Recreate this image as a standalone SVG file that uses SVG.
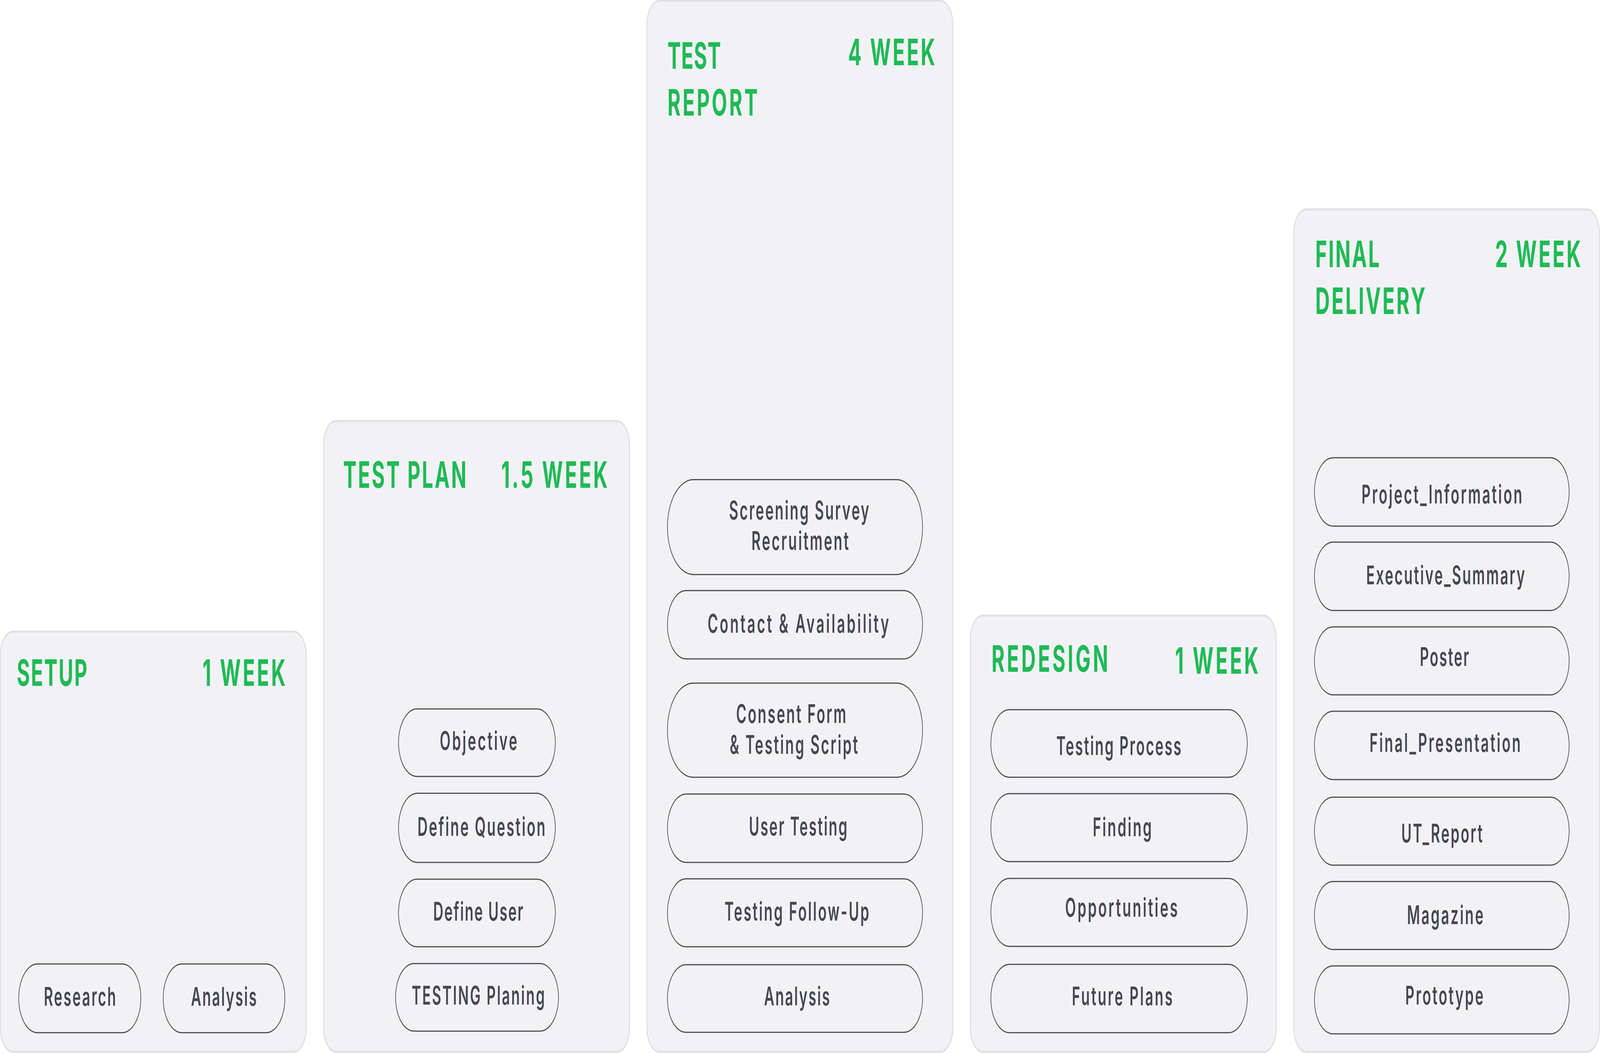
<svg xmlns="http://www.w3.org/2000/svg" width="7520" height="2696" viewBox="0 0 7520 2696" preserveAspectRatio="none" style="width:100vw;height:100vh;display:block">
<style>
.bg{fill:#FFFFFF}
.card{fill:#F2F2F6;stroke:#E0E0E3;stroke-width:5}
.pill{fill:none;stroke:#4A4B57;stroke-width:3}
.title{font-family:Inter,"Liberation Sans",sans-serif;font-weight:700;font-size:94px;fill:#1FBA55}
.label{font-family:Inter,"Liberation Sans",sans-serif;font-weight:600;font-size:66px;fill:#454752}
</style>
<rect class="bg" x="0" y="0" width="7520" height="2696"/>

<g id="setup">
<rect class="card" x="2" y="1617" width="1437" height="1076" rx="60"/>
<text class="title" x="79" y="1756" textLength="331" lengthAdjust="spacing">SETUP</text>
<text class="title" x="952" y="1756" textLength="390" lengthAdjust="spacing">1 WEEK</text>
<g id="setup-research"><rect class="pill" x="88" y="2468" width="574" height="176" rx="88"/>
<text class="label" x="206" y="2575" textLength="339" lengthAdjust="spacing">Research</text></g>
<g id="setup-analysis"><rect class="pill" x="767" y="2468" width="572" height="176" rx="88"/>
<text class="label" x="898" y="2575" textLength="308" lengthAdjust="spacing">Analysis</text></g>
</g>

<g id="test-plan">
<rect class="card" x="1521" y="1078" width="1437" height="1615" rx="60"/>
<text class="title" x="1613" y="1249" textLength="579" lengthAdjust="spacing">TEST PLAN</text>
<text class="title" x="2356" y="1249" textLength="500" lengthAdjust="spacing">1.5 WEEK</text>
<g id="tp-objective"><rect class="pill" x="1873" y="1815" width="737" height="173" rx="86.5"/>
<text class="label" x="2067" y="1920" textLength="364" lengthAdjust="spacing">Objective</text></g>
<g id="tp-question"><rect class="pill" x="1873" y="2031" width="737" height="177" rx="88.5"/>
<text class="label" x="1962" y="2140" textLength="601" lengthAdjust="spacing">Define Question</text></g>
<g id="tp-user"><rect class="pill" x="1873" y="2251" width="737" height="173" rx="86.5"/>
<text class="label" x="2036" y="2357" textLength="423" lengthAdjust="spacing">Define User</text></g>
<g id="tp-planing"><rect class="pill" x="1859" y="2467" width="766" height="173" rx="86.5"/>
<text class="label" x="1935" y="2572" textLength="625" lengthAdjust="spacing">TESTING Planing</text></g>
</g>

<g id="test-report">
<rect class="card" x="3041" y="2" width="1437" height="2691" rx="60"/>
<text class="title" x="3137" y="176" textLength="251" lengthAdjust="spacing">TEST</text>
<text class="title" x="3137" y="296" textLength="424" lengthAdjust="spacing">REPORT</text>
<text class="title" x="3986" y="167" textLength="409" lengthAdjust="spacing">4 WEEK</text>
<g id="tr-screening"><rect class="pill" x="3137" y="1228" width="1199" height="243" rx="121.5"/>
<text class="label" x="3427" y="1330" textLength="658" lengthAdjust="spacing">Screening Survey</text>
<text class="label" x="3532" y="1408" textLength="457" lengthAdjust="spacing">Recruitment</text></g>
<g id="tr-contact"><rect class="pill" x="3137" y="1512" width="1199" height="175" rx="87.5"/>
<text class="label" x="3326" y="1620" textLength="852" lengthAdjust="spacing">Contact &amp; Availability</text></g>
<g id="tr-consent"><rect class="pill" x="3137" y="1749" width="1199" height="241" rx="120.5"/>
<text class="label" x="3460" y="1851" textLength="517" lengthAdjust="spacing">Consent Form</text>
<text class="label" x="3430" y="1930" textLength="602" lengthAdjust="spacing">&amp; Testing Script</text></g>
<g id="tr-usertesting"><rect class="pill" x="3137" y="2033" width="1199" height="175" rx="87.5"/>
<text class="label" x="3520" y="2139" textLength="462" lengthAdjust="spacing">User Testing</text></g>
<g id="tr-followup"><rect class="pill" x="3137" y="2250" width="1199" height="174" rx="87"/>
<text class="label" x="3405" y="2357" textLength="680" lengthAdjust="spacing">Testing Follow-Up</text></g>
<g id="tr-analysis"><rect class="pill" x="3137" y="2470" width="1199" height="173" rx="86.5"/>
<text class="label" x="3591" y="2574" textLength="309" lengthAdjust="spacing">Analysis</text></g>
</g>

<g id="redesign">
<rect class="card" x="4561" y="1576" width="1437" height="1117" rx="60"/>
<text class="title" x="4660" y="1720" textLength="548" lengthAdjust="spacing">REDESIGN</text>
<text class="title" x="5523" y="1725" textLength="392" lengthAdjust="spacing">1 WEEK</text>
<g id="rd-process"><rect class="pill" x="4657" y="1817" width="1205" height="173" rx="86.5"/>
<text class="label" x="4965" y="1933" textLength="587" lengthAdjust="spacing">Testing Process</text></g>
<g id="rd-finding"><rect class="pill" x="4657" y="2032" width="1205" height="174" rx="87"/>
<text class="label" x="5136" y="2141" textLength="277" lengthAdjust="spacing">Finding</text></g>
<g id="rd-opportunities"><rect class="pill" x="4657" y="2249" width="1205" height="174" rx="87"/>
<text class="label" x="5006" y="2347" textLength="529" lengthAdjust="spacing">Opportunities</text></g>
<g id="rd-future"><rect class="pill" x="4657" y="2469" width="1205" height="175" rx="87.5"/>
<text class="label" x="5038" y="2574" textLength="473" lengthAdjust="spacing">Future Plans</text></g>
</g>

<g id="final-delivery">
<rect class="card" x="6081" y="536" width="1436" height="2157" rx="60"/>
<text class="title" x="6182" y="684" textLength="302" lengthAdjust="spacing">FINAL</text>
<text class="title" x="6182" y="804" textLength="517" lengthAdjust="spacing">DELIVERY</text>
<text class="title" x="7027" y="684" textLength="403" lengthAdjust="spacing">2 WEEK</text>
<g id="fd-project"><rect class="pill" x="6178" y="1172" width="1197" height="175" rx="87.5"/>
<text class="label" x="6399" y="1289" textLength="755" lengthAdjust="spacing">Project_Information</text></g>
<g id="fd-executive"><rect class="pill" x="6178" y="1388" width="1197" height="175" rx="87.5"/>
<text class="label" x="6421" y="1496" textLength="746" lengthAdjust="spacing">Executive_Summary</text></g>
<g id="fd-poster"><rect class="pill" x="6178" y="1605" width="1197" height="174" rx="87"/>
<text class="label" x="6673" y="1705" textLength="231" lengthAdjust="spacing">Poster</text></g>
<g id="fd-presentation"><rect class="pill" x="6178" y="1821" width="1197" height="175" rx="87.5"/>
<text class="label" x="6437" y="1925" textLength="710" lengthAdjust="spacing">Final_Presentation</text></g>
<g id="fd-utreport"><rect class="pill" x="6178" y="2041" width="1197" height="174" rx="87"/>
<text class="label" x="6586" y="2157" textLength="382" lengthAdjust="spacing">UT_Report</text></g>
<g id="fd-magazine"><rect class="pill" x="6178" y="2257" width="1197" height="174" rx="87"/>
<text class="label" x="6613" y="2366" textLength="359" lengthAdjust="spacing">Magazine</text></g>
<g id="fd-prototype"><rect class="pill" x="6178" y="2473" width="1197" height="174" rx="87"/>
<text class="label" x="6605" y="2572" textLength="367" lengthAdjust="spacing">Prototype</text></g>
</g>
</svg>
